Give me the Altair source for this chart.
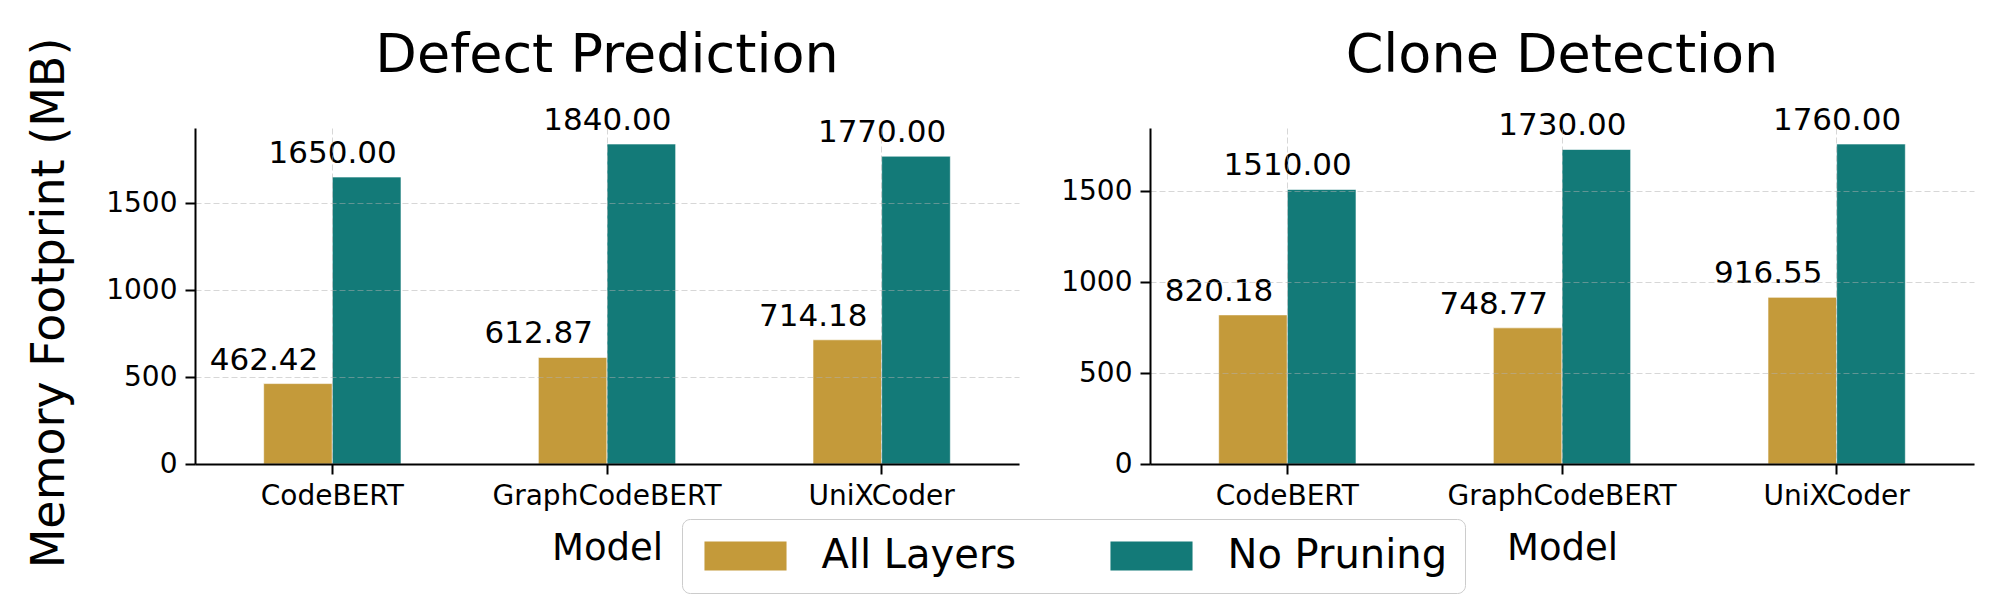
import altair as alt
import pandas as pd

models = ["CodeBERT", "GraphCodeBERT", "UniXCoder"]
series = ["All Layers", "No Pruning"]
colors = ["#C49A3A", "#137A78"]

defect_all = [462.42, 612.87, 714.18]
defect_nop = [1650.00, 1840.00, 1770.00]
clone_all = [820.18, 748.77, 916.55]
clone_nop = [1510.00, 1730.00, 1760.00]

y_ticks = [0, 500, 1000, 1500]
y_title = "Memory Footprint (MB)"

FONT = "DejaVu Sans"
W, H = 824, 336

legend = alt.Legend(
    title=None,
    orient="none",
    legendX=487,
    legendY=391,
    direction="horizontal",
    columns=2,
    symbolType="M-2.83,-1L2.83,-1L2.83,1L-2.83,1Z",
    symbolSize=841,
    symbolOffset=26.5,
    symbolStrokeWidth=0,
    symbolOpacity=1,
    labelFontSize=40,
    labelFont=FONT,
    labelColor="black",
    labelLimit=500,
    labelOffset=56,
    columnPadding=88,
    padding=17,
    strokeColor="#cccccc",
    cornerRadius=8,
    fillColor="white",
)


def panel(title, all_vals, nop_vals, ylabel):
    rows = []
    for m, a, n in zip(models, all_vals, nop_vals):
        rows.append({"Model": m, "Series": series[0], "Value": a, "Label": f"{a:.2f}"})
        rows.append({"Model": m, "Series": series[1], "Value": n, "Label": f"{n:.2f}"})
    df = pd.DataFrame(rows)
    ymax = max(all_vals + nop_vals) * 1.05

    x = alt.X(
        "Model:N",
        sort=models,
        title="Model",
        scale=alt.Scale(paddingInner=0.5, paddingOuter=0.25),
        axis=alt.Axis(
            labelAngle=0,
            labelFontSize=28,
            labelFont=FONT,
            labelColor="black",
            labelPadding=8,
            labelLimit=500,
            titleFontSize=37,
            titleFont=FONT,
            titleFontWeight="normal",
            titleColor="black",
            titlePadding=20,
            tickSize=10,
            tickWidth=2,
            tickColor="black",
            domainColor="black",
            domainWidth=2,
            grid=True,
            gridDash=[6, 3],
            gridColor="#b0b0b0",
            gridOpacity=0.5,
            gridWidth=1,
            bandPosition=0.5,
            zindex=1,
        ),
    )
    xoff = alt.XOffset(
        "Series:N", sort=series, scale=alt.Scale(paddingInner=0, paddingOuter=0)
    )
    y = alt.Y(
        "Value:Q",
        title=None,
        scale=alt.Scale(domain=[0, ymax], nice=False, zero=True),
        axis=alt.Axis(
            values=y_ticks,
            format="d",
            labelFontSize=28,
            labelFont=FONT,
            labelColor="black",
            labelPadding=8,
            tickSize=10,
            tickWidth=2,
            tickColor="black",
            domainColor="black",
            domainWidth=2,
            grid=True,
            gridDash=[6, 3],
            gridColor="#b0b0b0",
            gridOpacity=0.5,
            gridWidth=1,
            zindex=1,
        ),
    )
    color = alt.Color(
        "Series:N", scale=alt.Scale(domain=series, range=colors), legend=legend
    )
    bars = alt.Chart(df).mark_bar(
        stroke="white", strokeWidth=1, strokeOpacity=0.6
    ).encode(x=x, xOffset=xoff, y=y, color=color)
    text = alt.Chart(df).mark_text(
        dx=-34, dy=-14, baseline="alphabetic", align="center",
        fontSize=31, font=FONT, color="black"
    ).encode(x=x, xOffset=xoff, y=y, text="Label:N")
    ttl = alt.Chart(pd.DataFrame({"t": [title]})).mark_text(
        align="center", baseline="alphabetic", fontSize=54, font=FONT, color="black"
    ).encode(x=alt.value(W / 2), y=alt.value(-56), text="t:N")
    layers = [bars, text, ttl]
    if ylabel:
        ytext = alt.Chart(pd.DataFrame({"t": [ylabel]})).mark_text(
            angle=270, align="center", baseline="alphabetic",
            fontSize=46, font=FONT, color="black"
        ).encode(x=alt.value(-131), y=alt.value(175), text="t:N")
        layers.append(ytext)
    return alt.layer(*layers).properties(width=W, height=H)


left = panel("Defect Prediction", defect_all, defect_nop, y_title)
right = panel("Clone Detection", clone_all, clone_nop, None)

chart = (
    alt.hconcat(left, right, spacing=131, bounds="flush")
    .configure(padding={"left": 18, "top": 21, "right": 10, "bottom": 5}, background="white")
    .configure_view(stroke=None)
)

chart.save("out.html", embed_options={"renderer": "svg", "actions": False})
